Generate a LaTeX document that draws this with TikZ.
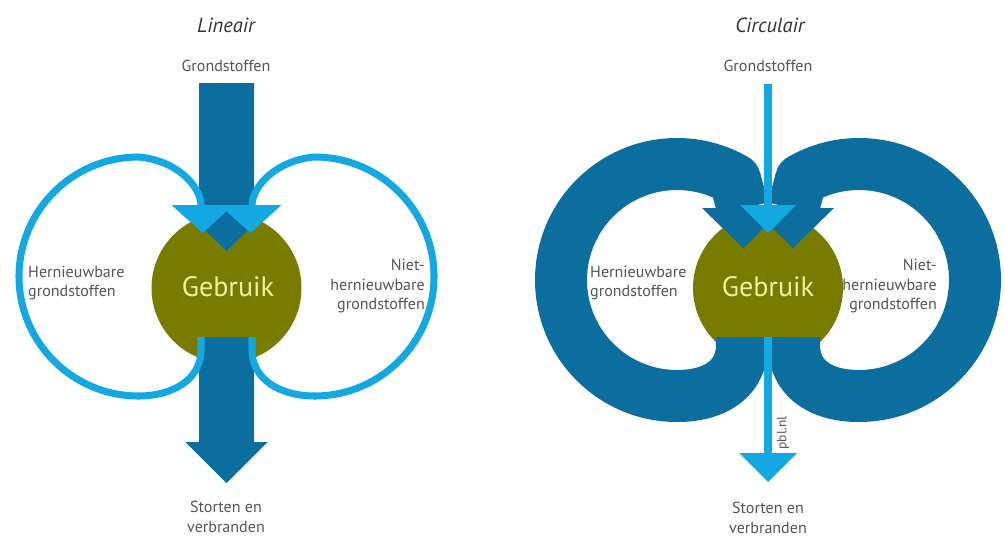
\documentclass[tikz,border=0pt]{standalone}
\usepackage{fontspec}
\setmainfont{PT Sans}
\usepackage{xcolor}
\definecolor{pbldark}{HTML}{0B6E9F}
\definecolor{pbllight}{HTML}{13A8E2}
\definecolor{pblolive}{HTML}{777C00}
\definecolor{pbltext}{HTML}{565656}
\definecolor{pblyellow}{HTML}{EFEFA0}

\begin{document}
\begin{tikzpicture}[x=0.3mm, y=-0.3mm,
    lbl/.style={font=\fontsize{13.7}{17}\selectfont, text=pbltext, inner sep=0},
    paneltitle/.style={font=\fontsize{17.5}{21}\selectfont\itshape, text=black!80, inner sep=0},
    usetext/.style={font=\fontsize{24}{28}\selectfont, text=pblyellow, inner sep=0},
    thinflow/.style={draw=pbllight, line width=6pt},
    thickflow/.style={draw=pbldark, line width=44.4pt, line join=round}]
    \useasboundingbox (0,0) rectangle (1005,539);

    % Lineair
    \begin{scope}[shift={(226.5,0)}]
        \fill[pblolive] (0,288) circle[radius=75];
        \fill[pbldark] (-27.5,83) -- (27.5,83) -- (27.5,224) -- (0,251) -- (-27.5,224) -- cycle;
        \fill[pbldark] (-27.5,337) -- (27.5,337) -- (27.5,442) -- (41,442) -- (0,483)
            -- (-41,442) -- (-27.5,442) -- cycle;
        % side loops
        \foreach \s in {-1,1} {
            \begin{scope}[xscale=\s]
                \draw[thinflow] (-25.5,337) -- (-25.5,350) .. controls (-25.5,380) and (-54.5,396) .. (-88,396)
                    arc[start angle=90, end angle=270, radius=119.5]
                    .. controls (-51.5,160) and (-25.5,185) .. (-25.5,206);
                \fill[pbllight] (-55,205) -- (7,205) -- (-24,233) -- cycle;
            \end{scope}
        }
    \end{scope}

    % Circulair
    \begin{scope}[shift={(768,0)}]
        \fill[pblolive] (0,288) circle[radius=75];
        % rings
        \foreach \s in {1,-1} {
            \begin{scope}[xscale=\s]
                \draw[thickflow] (-26,337) -- (-26,345) .. controls (-26,378) and (-52,396) .. (-91,396)
                    arc[start angle=90, end angle=300, radius=116] -- (-25,209);
                \fill[pbldark] (-66,208) -- (16,208) -- (-25,248) -- cycle;
            \end{scope}
        }
        \draw[pbllight, line width=6.8pt] (0,84) -- (0,206);
        \fill[pbllight] (-28,205) -- (28,205) -- (0,233) -- cycle;
        \draw[pbllight, line width=6.8pt] (0,337) -- (0,454);
        \fill[pbllight] (-29,453) -- (29,453) -- (0,482) -- cycle;
    \end{scope}

    % Texts
    \node[paneltitle] (tlin) at (226,25) {Lineair};
    \node[paneltitle] (tcirc) at (770,25) {Circulair};
    \node[lbl] (inlin) at (226,66) {Grondstoffen};
    \node[lbl] (incirc) at (768,66) {Grondstoffen};
    \node[usetext] (uselin) at (228,287) {Gebruik};
    \node[usetext] (usecirc) at (768,287) {Gebruik};
    \node[lbl, anchor=west, align=left] (renlin) at (28,283) {Hernieuwbare\\grondstoffen};
    \node[lbl, anchor=west, align=left] (rencirc) at (590,283) {Hernieuwbare\\grondstoffen};
    \node[lbl, anchor=east, align=right] (nrenlin) at (425,286) {Niet-\\hernieuwbare\\grondstoffen};
    \node[lbl, anchor=east, align=right] (nrencirc) at (937,286) {Niet-\\hernieuwbare\\grondstoffen};
    \node[lbl, align=center] (outlin) at (226,517) {Storten en\\verbranden};
    \node[lbl, align=center] (outcirc) at (768,518) {Storten en\\verbranden};
    \node[lbl, font=\fontsize{11.5}{13}\selectfont, rotate=90] (src) at (783,433) {pbl.nl};
\end{tikzpicture}
\end{document}
